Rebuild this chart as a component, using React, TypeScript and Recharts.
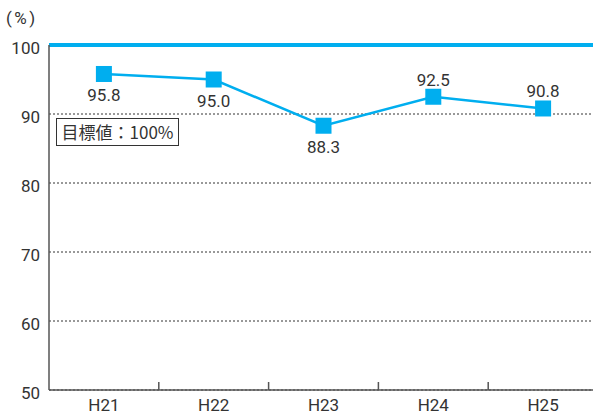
import React from 'react';
import { LineChart, Line, XAxis, YAxis, CartesianGrid, ReferenceLine, LabelList } from 'recharts';

const categories = ['H21', 'H22', 'H23', 'H24', 'H25'];
const values = [95.8, 95.0, 88.3, 92.5, 90.8];
const labelAbove = [false, false, false, true, true];
const yTicks = [50, 60, 70, 80, 90, 100];
const targetValue = 100;
const unitLabel = '(%)';
const targetLabel = '目標値：100%';

const data = categories.map((c, i) => ({ i, name: c, value: values[i] }));
const xTicks = [0, 0.5, 1, 1.5, 2, 2.5, 3, 3.5, 4];

const BLUE = '#00aeef';
const TEXT = '#333333';
const AXIS = '#555555';
const FONT = 'Roboto, "Liberation Sans", sans-serif';
const CJK = '"Noto Sans CJK JP", sans-serif';

const XTick = (props: any) => {
  const { x, y, payload } = props;
  const v = payload.value;
  if (Number.isInteger(v)) {
    return (
      <text x={x} y={y + 21} textAnchor="middle" fontSize={17} fill={TEXT} fontFamily={FONT}>
        {categories[v]}
      </text>
    );
  }
  return <line x1={x} x2={x} y1={y} y2={y - 8} stroke={AXIS} strokeWidth={1.5} />;
};

const YTick = (props: any) => {
  const { x, y, payload } = props;
  return (
    <text x={x - 9} y={y + 3} dy="0.355em" textAnchor="end" fontSize={17} fill={TEXT} fontFamily={FONT}>
      {payload.value}
    </text>
  );
};

const SquareDot = (props: any) => {
  const { cx, cy, index } = props;
  return <rect key={index} x={cx - 8} y={cy - 8} width={16} height={16} fill={BLUE} />;
};

const ValueLabel = (props: any) => {
  const { x, y, value, index } = props;
  const above = labelAbove[index];
  return (
    <text
      x={x}
      y={y + (above ? -11 : 27)}
      textAnchor="middle"
      fontSize={17}
      fill={TEXT}
      fontFamily={FONT}
    >
      {Number(value).toFixed(1)}
    </text>
  );
};

export default function App() {
  return (
    <div style={{ position: 'absolute', left: 0, top: 0, width: 593, height: 414, overflow: 'hidden', background: '#fff' }}>
      <div
        style={{
          position: 'absolute',
          left: 6,
          top: 7,
          fontSize: 17,
          lineHeight: '22px',
          fontFamily: FONT,
          letterSpacing: 2.5,
          color: TEXT,
          whiteSpace: 'nowrap',
        }}
      >
        {unitLabel}
      </div>
      <LineChart width={598} height={414} data={data} margin={{ top: 45, right: 0, bottom: 0, left: 0 }}>
        <CartesianGrid vertical={false} stroke={TEXT} strokeDasharray="2 2" strokeWidth={1} />
        <XAxis
          dataKey="i"
          type="number"
          domain={[-0.5, 4.5]}
          ticks={xTicks}
          interval={0}
          tickLine={false}
          tickSize={0}
          tickMargin={0}
          height={24}
          axisLine={{ stroke: AXIS, strokeWidth: 1.5 }}
          tick={<XTick />}
        />
        <YAxis
          domain={[50, 100]}
          ticks={yTicks}
          interval={0}
          width={49}
          tickLine={false}
          tickSize={0}
          tickMargin={0}
          axisLine={{ stroke: AXIS, strokeWidth: 1.5 }}
          tick={<YTick />}
        />
        <ReferenceLine y={targetValue} stroke={BLUE} strokeWidth={4} />
        <Line
          type="linear"
          dataKey="value"
          stroke={BLUE}
          strokeWidth={2.5}
          dot={<SquareDot />}
          activeDot={false}
          isAnimationActive={false}
        >
          <LabelList dataKey="value" content={<ValueLabel />} />
        </Line>
      </LineChart>
      <div
        style={{
          position: 'absolute',
          left: 56,
          top: 118,
          width: 121,
          height: 26,
          border: `1px solid ${TEXT}`,
          background: '#fff',
          fontSize: 17,
          lineHeight: '26px',
          fontFamily: CJK,
          color: TEXT,
          textAlign: 'center',
          whiteSpace: 'nowrap',
        }}
      >
        {targetLabel}
      </div>
    </div>
  );
}
